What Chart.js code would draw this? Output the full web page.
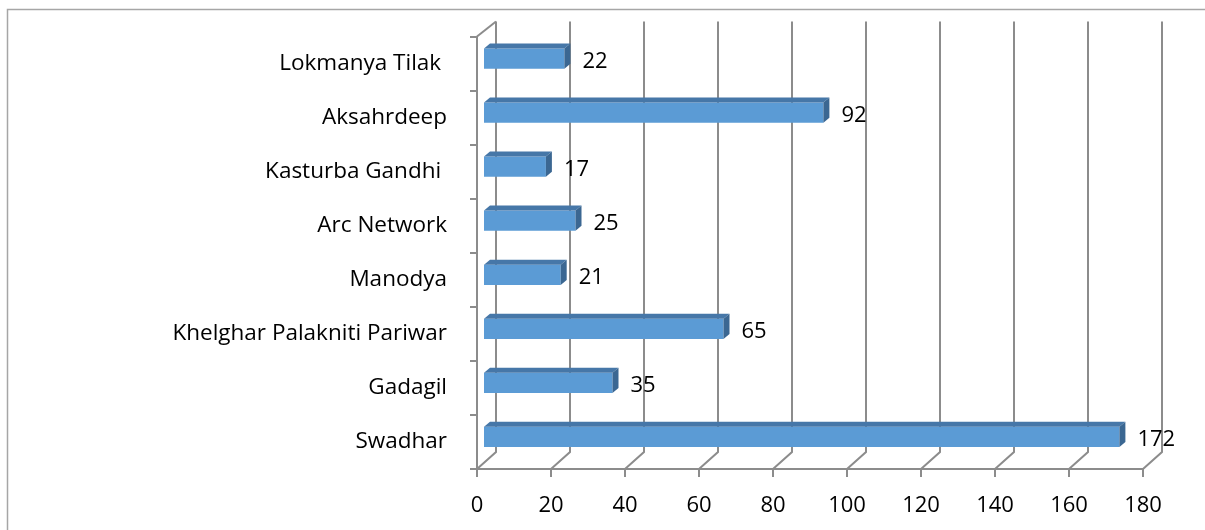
<!DOCTYPE html>
<html>
<head>
<meta charset="utf-8">
<script src="https://cdn.jsdelivr.net/npm/chart.js@4.4.1/dist/chart.umd.min.js"></script>
<style>
  html, body { margin: 0; padding: 0; background: #ffffff; }
  #wrap { width: 1205px; height: 530px; position: relative; }
</style>
</head>
<body>
<div id="wrap"><canvas id="c" width="1205" height="530"></canvas></div>
<script>
// ---- data ----
const categories = ["Lokmanya Tilak ", "Aksahrdeep", "Kasturba Gandhi ", "Arc Network", "Manodya", "Khelghar Palakniti Pariwar", "Gadagil", "Swadhar"];
const values = [22, 92, 17, 25, 21, 65, 35, 172];
const xTicks = [0, 20, 40, 60, 80, 100, 120, 140, 160, 180];

// ---- style ----
const FONT = '"Open Sans", Lato, sans-serif';
const GRID = '#8c8c8c';
const DEPTH = { dx: 19, dy: -17 };   // wall depth
const BAR_OFF = { dx: 6, dy: -5 };   // bar front plane offset
const BAR_DEPTH = { dx: 6, dy: -5 }; // bar thickness in depth

const threeD = {
  id: 'threeD',
  beforeDraw(chart) {
    const ctx = chart.ctx;
    ctx.save();
    ctx.fillStyle = '#fff';
    ctx.fillRect(0, 0, chart.width, chart.height);
    ctx.strokeStyle = '#a6a6a6';
    ctx.lineWidth = 1.5;
    ctx.strokeRect(7.5, 9.5, 1400, 800);
    ctx.restore();
  },
  beforeDatasetsDraw(chart) {
    const ctx = chart.ctx;
    const xs = chart.scales.x, ys = chart.scales.y;
    const bottom = ys.bottom, top = ys.top;
    ctx.save();
    ctx.strokeStyle = GRID;
    ctx.lineWidth = 2;
    xTicks.forEach(v => {
      const px = xs.getPixelForValue(v);
      ctx.beginPath();
      ctx.moveTo(px, bottom);
      ctx.lineTo(px + DEPTH.dx, bottom + DEPTH.dy);
      ctx.lineTo(px + DEPTH.dx, top - 15);
      ctx.stroke();
    });
    // top-left depth edge
    ctx.beginPath();
    ctx.moveTo(xs.left, top);
    ctx.lineTo(xs.left + DEPTH.dx, top - 15);
    ctx.stroke();
    ctx.restore();
    // shift bars into their depth plane
    ctx.save();
    ctx.translate(BAR_OFF.dx, BAR_OFF.dy);
  },
  afterDatasetsDraw(chart) {
    const ctx = chart.ctx;
    const meta = chart.getDatasetMeta(0);
    meta.data.forEach(el => {
      const p = el.getProps(['x', 'y', 'base', 'height'], true);
      const t = p.y - p.height / 2, b = p.y + p.height / 2;
      // top face
      ctx.fillStyle = '#4677a8';
      ctx.beginPath();
      ctx.moveTo(p.base, t);
      ctx.lineTo(p.base + BAR_DEPTH.dx, t + BAR_DEPTH.dy);
      ctx.lineTo(p.x + BAR_DEPTH.dx, t + BAR_DEPTH.dy);
      ctx.lineTo(p.x, t);
      ctx.closePath();
      ctx.fill();
      // side face
      ctx.fillStyle = '#3b6792';
      ctx.beginPath();
      ctx.moveTo(p.x, t);
      ctx.lineTo(p.x + BAR_DEPTH.dx, t + BAR_DEPTH.dy);
      ctx.lineTo(p.x + BAR_DEPTH.dx, b + BAR_DEPTH.dy);
      ctx.lineTo(p.x, b);
      ctx.closePath();
      ctx.fill();
    });
    ctx.restore();
    // data labels
    ctx.save();
    ctx.font = '22px ' + FONT;
    ctx.fillStyle = '#000';
    ctx.textAlign = 'left';
    ctx.textBaseline = 'middle';
    meta.data.forEach((el, i) => {
      const p = el.getProps(['x', 'y'], true);
      ctx.fillText(String(values[i]), p.x + BAR_OFF.dx + 18, p.y - 2);
    });
    ctx.restore();
  }
};

new Chart(document.getElementById('c'), {
  type: 'bar',
  data: {
    labels: categories,
    datasets: [{
      data: values,
      backgroundColor: '#5b9bd5',
      borderWidth: 0,
      categoryPercentage: 1,
      barPercentage: 0.375
    }]
  },
  plugins: [threeD],
  options: {
    indexAxis: 'y',
    responsive: false,
    animation: false,
    devicePixelRatio: 1,
    layout: { padding: { top: 33, right: 62, bottom: 0, left: 0 } },
    plugins: { legend: { display: false }, tooltip: { enabled: false } },
    scales: {
      x: {
        min: 0, max: 180,
        afterFit(s) { s.height = 61; },
        ticks: { stepSize: 20, color: '#000', font: { family: FONT, size: 22 }, padding: 16, maxRotation: 0 },
        grid: { drawOnChartArea: false, drawTicks: true, tickLength: 8, color: GRID, lineWidth: 2 },
        border: { display: true, color: GRID, width: 2 }
      },
      y: {
        afterFit(s) { s.width = 477; },
        ticks: { color: '#000', font: { family: FONT, size: 22.5 }, padding: 23 },
        grid: { offset: true, drawOnChartArea: false, drawTicks: true, tickLength: 7, color: GRID, lineWidth: 2 },
        border: { display: true, color: GRID, width: 2 }
      }
    }
  }
});
</script>
</body>
</html>
